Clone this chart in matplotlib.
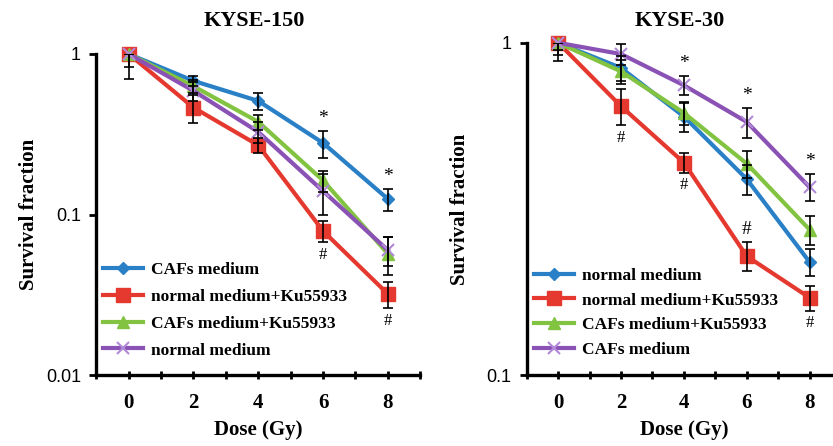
#/usr/bin/env python3

import numpy as np
import matplotlib
matplotlib.use('Agg')
import matplotlib.pyplot as plt

# DATA
dose = [0, 2, 4, 6, 8]

# KYSE-150 panel
k150_labels = ['CAFs medium', 'normal medium+Ku55933', 'CAFs medium+Ku55933', 'normal medium']
k150_values = [
    [1.0, 0.68, 0.51, 0.279, 0.125],
    [1.0, 0.464, 0.27, 0.079, 0.032],
    [1.0, 0.63, 0.378, 0.163, 0.057],
    [1.0, 0.59, 0.327, 0.14, 0.060],
]
k150_errors = [
    [0.0, 0.05, 0.06, 0.053, 0.02],
    [0.30, 0.09, 0.03, 0.012, 0.006],
    [0.17, 0.06, 0.04, 0.025, 0.015],
    [0.0, 0.08, 0.05, 0.04, 0.012],
]
k150_stars = [6, 8]     # marked on CAFs medium
k150_hashes = [6, 8]    # marked on normal medium+Ku55933

# KYSE-30 panel
k30_labels = ['normal medium', 'normal medium+Ku55933', 'CAFs medium+Ku55933', 'CAFs medium']
k30_values = [
    [1.0, 0.84, 0.60, 0.389, 0.219],
    [1.0, 0.644, 0.436, 0.228, 0.171],
    [1.0, 0.82, 0.615, 0.433, 0.274],
    [1.0, 0.925, 0.745, 0.578, 0.368],
]
k30_errors = [
    [0.05, 0.07, 0.06, 0.04, 0.02],
    [0.12, 0.08, 0.03, 0.023, 0.015],
    [0.08, 0.07, 0.05, 0.04, 0.027],
    [0.0, 0.07, 0.05, 0.06, 0.035],
]
k30_stars = [4, 6, 8]        # marked on CAFs medium
k30_hashes = [2, 4, 6, 8]    # marked on normal medium+Ku55933
k30_hash_above = [6]

# STYLE
colors = ['#2a80c6', '#e5392f', '#82c341', '#8b52b5']
markers = ['D', 's', '^', 'x']
msizes = [6, 10, 8, 9]

serif = ['Liberation Serif', 'DejaVu Serif']
sans = ['Liberation Sans', 'DejaVu Sans']


def style_axes(ax, ymin, title, ylabelpad):
    ax.set_yscale('log')
    ax.set_ylim(ymin, 1)
    ax.set_xlim(-1, 9)
    for s in ['top', 'right']:
        ax.spines[s].set_visible(False)
    for s in ['left', 'bottom']:
        ax.spines[s].set_linewidth(2.4)
    ax.set_xticks(np.arange(-1, 10))
    ax.set_xticklabels(['' if (t < 0 or t > 8 or t % 2) else str(t) for t in range(-1, 10)],
                       family=serif, fontweight='bold', fontsize=15)
    ax.tick_params(axis='x', direction='inout', length=6, width=2, pad=10)
    ax.yaxis.set_minor_locator(matplotlib.ticker.NullLocator())
    ax.yaxis.set_major_formatter(matplotlib.ticker.FuncFormatter(lambda v, p: f'{v:g}'))
    ax.tick_params(axis='y', direction='out', length=5, width=2, labelsize=13, pad=6)
    bb = ax.get_position()
    fig.text((bb.x0 + bb.x1) / 2 - 0.005, 0.952, title, ha='center', va='center',
             family=serif, fontweight='bold', fontsize=16)
    ax.set_xlabel('Dose (Gy)', family=serif, fontweight='bold', fontsize=15, labelpad=5)
    ax.set_ylabel('Survival fraction', family=serif, fontweight='bold', fontsize=15,
                  labelpad=ylabelpad)


def draw_panel(ax, labels, values, errors):
    for i, (lab, vals, errs) in enumerate(zip(labels, values, errors)):
        mew = 1.5 if markers[i] == 'x' else 1
        mcol = '#b08ad6' if markers[i] == 'x' else colors[i]
        ax.plot(dose, vals, color=colors[i], lw=3, marker=markers[i], ms=msizes[i],
                mfc=mcol, mec=mcol, mew=mew, label=lab, zorder=3, clip_on=False)
        ax.errorbar(dose, vals, yerr=errs, fmt='none', ecolor='black',
                    elinewidth=1.2, capsize=3.5, capthick=1.2, zorder=4)


def mark(ax, text, xs, vals, errs, above):
    for x in xs:
        i = dose.index(x)
        if above:
            ax.annotate(text, (x, vals[i] + errs[i]), xytext=(0, 9), textcoords='offset points',
                        ha='center', va='center', fontsize=14, family=serif, zorder=5)
        else:
            ax.annotate(text, (x, vals[i] - errs[i]), xytext=(0, -9), textcoords='offset points',
                        ha='center', va='center', fontsize=12, family=serif, zorder=5)


def legend(ax, spacing):
    leg = ax.legend(loc='lower left', bbox_to_anchor=(0.0, 0.03), frameon=False,
                    handlelength=2.3, handletextpad=0.45, labelspacing=spacing,
                    borderaxespad=0, prop={'family': serif, 'weight': 'bold', 'size': 12.5})
    return leg


fig = plt.figure(figsize=(8.33, 4.46), dpi=100)
ax1 = fig.add_axes([0.1155, 0.159, 0.389, 0.720])
ax2 = fig.add_axes([0.6325, 0.159, 0.377, 0.745])

draw_panel(ax1, k150_labels, k150_values, k150_errors)
style_axes(ax1, 0.01, 'KYSE-150', 5)
ax1.set_yticks([0.01, 0.1, 1])
mark(ax1, '*', k150_stars, k150_values[0], k150_errors[0], True)
mark(ax1, '#', k150_hashes, k150_values[1], k150_errors[1], False)
legend(ax1, 0.62)

draw_panel(ax2, k30_labels, k30_values, k30_errors)
style_axes(ax2, 0.1, 'KYSE-30', 12)
ax2.set_yticks([0.1, 1])
mark(ax2, '*', k30_stars, k30_values[3], k30_errors[3], True)
mark(ax2, '#', [x for x in k30_hashes if x not in k30_hash_above], k30_values[1], k30_errors[1], False)
mark(ax2, '#', k30_hash_above, k30_values[1], k30_errors[1], True)
legend(ax2, 0.5)

for ax in (ax1, ax2):
    for lab in ax.get_yticklabels():
        lab.set_family(sans)

fig.savefig('out.png', dpi=100)
